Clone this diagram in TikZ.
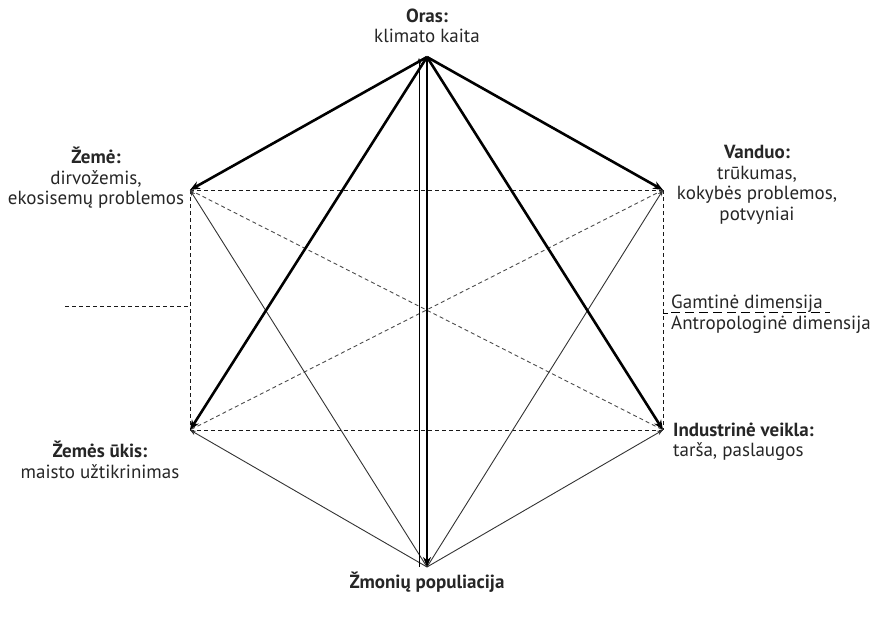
\documentclass[tikz,border=0pt]{standalone}
\usepackage{fontspec}
\setmainfont{PT Sans}
\usetikzlibrary{arrows.meta}
\begin{document}
\begin{tikzpicture}[x=1pt,y=-1pt,
  thickarr/.style={line width=2.6pt,-{Stealth[length=10pt,width=8pt]}},
  thinarr/.style={line width=0.9pt,draw=black!80,-{Stealth[length=6pt,width=4.5pt]}},
  dash1/.style={line width=0.9pt,draw=black!90,dash pattern=on 4pt off 3pt},
  lbl/.style={font=\fontsize{19}{20.5}\selectfont,text=black!85,inner sep=0pt,align=center},
]
\useasboundingbox (0,0) rectangle (883,623);
\coordinate (T) at (427,57);
\coordinate (L1) at (190,190);
\coordinate (R1) at (663,190);
\coordinate (L2) at (190,430);
\coordinate (R2) at (663,430);
\coordinate (B) at (427,567);
\coordinate (Bt) at (419,567);
\coordinate (Tt) at (419,58);
\coordinate (lx) at (65,306);
\coordinate (ly) at (190,306);
% dashed
\draw[dash1] (L1) -- (R1);
\draw[dash1] (L2) -- (R2);
\draw[dash1] (L1) -- (L2);
\draw[dash1] (R1) -- (R2);
\draw[dash1,draw=black!70] (L1) -- (R2);
\draw[dash1,draw=black!70] (R1) -- (L2);
\draw[dash1] (lx) -- (ly);
% thin
\draw[thinarr] (B) -- (L1);
\draw[thinarr] (B) -- (R1);
\draw[thinarr] (B) -- (L2);
\draw[thinarr] (B) -- (R2);
\draw[thinarr,draw=black] (Bt) -- (Tt);
% thick
\draw[thickarr] (T) -- (L1);
\draw[thickarr] (T) -- (R1);
\draw[thickarr] (T) -- (L2);
\draw[thickarr] (T) -- (R2);
\draw[thickarr] (T) -- (B);
% labels
\node[lbl] (oras) at (427,26) {\textbf{Oras:}\\klimato kaita};
\node[lbl] (zeme) at (96,178) {\textbf{Žemė:}\\dirvožemis,\\ekosisemų problemos};
\node[lbl] (vanduo) at (757,185) {\textbf{Vanduo:}\\trūkumas,\\kokybės problemos,\\potvyniai};
\node[lbl] (ukis) at (100,460) {\textbf{Žemės ūkis:}\\maisto užtikrinimas};
\node[lbl,anchor=west,align=left] (ind) at (673,442) {\textbf{Industrinė veikla:}\\tarša, paslaugos};
\node[lbl,font=\bfseries\fontsize{19}{20.5}\selectfont] (pop) at (427,582) {Žmonių populiacija};
\node[lbl,anchor=west,align=left] (leg) at (671,314) {Gamtinė dimensija\\Antropologinė dimensija};
\coordinate (u1) at (671,312);
\coordinate (u2) at (830,312);
\draw[line width=0.7pt,dash pattern=on 9pt off 5pt] (u1) -- (u2);
\coordinate (k1) at (663,313);
\coordinate (k2) at (668,313);
\draw[line width=0.6pt] (k1) -- (k2);
\end{tikzpicture}
\end{document}
